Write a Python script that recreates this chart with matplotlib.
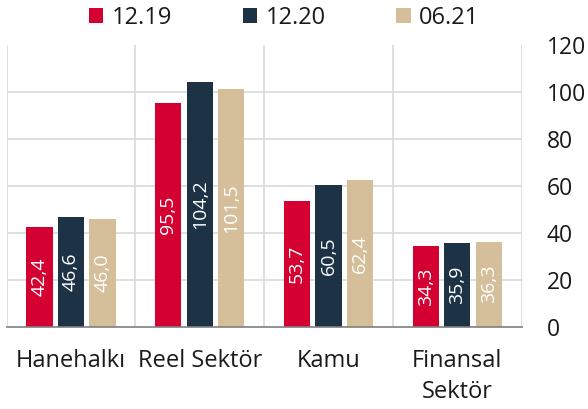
"""Grouped bar chart: sector debt by period."""

import matplotlib
matplotlib.use("Agg")
import matplotlib.pyplot as plt
import numpy as np
from matplotlib.patches import Patch

categories = ["Hanehalkı", "Reel Sektör", "Kamu", "Finansal\nSektör"]
series_names = ["12.19", "12.20", "06.21"]
values_1219 = [42.4, 95.5, 53.7, 34.3]
values_1220 = [46.6, 104.2, 60.5, 35.9]
values_0621 = [46.0, 101.5, 62.4, 36.3]
y_ticks = [0, 20, 40, 60, 80, 100, 120]

RED = "#D50032"
NAVY = "#1E3246"
TAN = "#D5BE9A"
GRID = "#D9D9D9"
INK = "#1A1A1A"

plt.rcParams["font.family"] = ["Open Sans", "DejaVu Sans"]

fig = plt.figure(figsize=(5.88, 4.09), dpi=100)
ax = fig.add_axes([0.0114, 0.2012, 0.8758, 0.6878])

x = np.arange(len(categories))
width = 0.204
step = 0.245
series = [values_1219, values_1220, values_0621]
colors = [RED, NAVY, TAN]

for i, (vals, col) in enumerate(zip(series, colors)):
    pos = x + (i - 1) * step
    bars = ax.bar(pos, vals, width, color=col, zorder=3)
    for b, v in zip(bars, vals):
        ax.text(b.get_x() + b.get_width() / 2, v / 2, f"{v:.1f}".replace(".", ","),
                rotation=90, ha="center", va="center", color="white",
                fontsize=14, zorder=4)

ax.set_xlim(-0.5, len(categories) - 0.5)
ax.set_ylim(0, 120)
for yv in y_ticks[1:-1]:
    ax.axhline(yv, color=GRID, linewidth=1.2, zorder=1)
for xv in np.arange(-0.5, len(categories), 1.0):
    ax.axvline(xv, color=GRID, linewidth=1.2, zorder=1)

for side in ["top", "left", "right"]:
    ax.spines[side].set_visible(False)
ax.spines["bottom"].set_color("#7F7F7F")
ax.spines["bottom"].set_linewidth(1.2)
ax.spines["bottom"].set_zorder(5)

ax.yaxis.tick_right()
ax.set_yticks(y_ticks)
ax.tick_params(axis="y", length=0, pad=18, labelsize=16.5, labelcolor=INK)
for lbl in ax.get_yticklabels():
    lbl.set_horizontalalignment("left")

ax.set_xticks(x)
ax.set_xticklabels(categories, fontsize=17, color=INK, linespacing=1.42)
ax.tick_params(axis="x", length=0, pad=16)

handles = [Patch(facecolor=c, edgecolor="none") for c in colors]
fig.legend(handles, series_names, loc="center", bbox_to_anchor=(0.483, 0.956),
           ncol=3, frameon=False, fontsize=17, handlelength=0.61, handleheight=0.61,
           handletextpad=0.35, columnspacing=3.0, labelcolor=INK)

fig.savefig("out.png", dpi=100)
plt.close(fig)
